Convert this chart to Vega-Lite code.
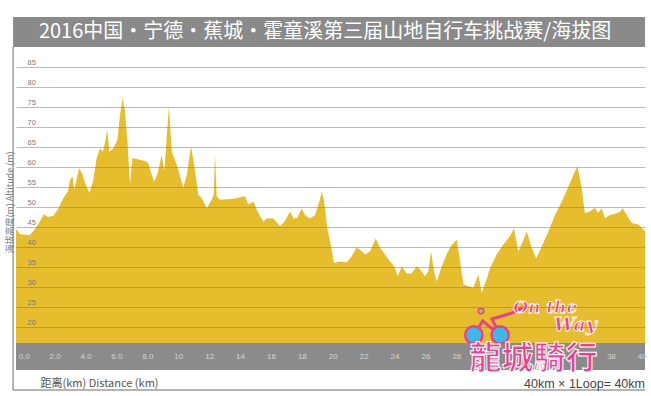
{
  "$schema": "https://vega.github.io/schema/vega-lite/v6.json",
  "width": 629,
  "height": 322,
  "autosize": "none",
  "padding": {"left": 16, "top": 48, "right": 6, "bottom": 26},
  "background": "white",
  "config": {"view": {"stroke": null}},
  "data": {"values": [{"k": 1}]},
  "resolve": {"axis": {"x": "independent", "y": "independent"}},
  "datasets": {
    "profile": [
      {"km": -0.5, "alt": 44.5}, {"km": -0.24, "alt": 43.2}, {"km": 0.41, "alt": 43.0}, {"km": 0.73, "alt": 44.5},
      {"km": 1.06, "alt": 46.5}, {"km": 1.31, "alt": 48.2}, {"km": 1.57, "alt": 47.5}, {"km": 1.92, "alt": 47.8},
      {"km": 2.22, "alt": 49.5}, {"km": 2.56, "alt": 52.2}, {"km": 2.87, "alt": 54.0}, {"km": 3.0, "alt": 56.8},
      {"km": 3.17, "alt": 57.6}, {"km": 3.26, "alt": 54.3}, {"km": 3.43, "alt": 57.0}, {"km": 3.58, "alt": 59.7},
      {"km": 3.77, "alt": 58.5}, {"km": 3.97, "alt": 56.0}, {"km": 4.25, "alt": 53.5}, {"km": 4.49, "alt": 56.5},
      {"km": 4.72, "alt": 62.2}, {"km": 4.94, "alt": 64.7}, {"km": 5.13, "alt": 63.8}, {"km": 5.26, "alt": 66.2},
      {"km": 5.41, "alt": 69.3}, {"km": 5.54, "alt": 63.8}, {"km": 5.8, "alt": 64.7}, {"km": 6.06, "alt": 66.7},
      {"km": 6.23, "alt": 73.0}, {"km": 6.4, "alt": 77.2}, {"km": 6.55, "alt": 74.0}, {"km": 6.72, "alt": 66.0},
      {"km": 6.88, "alt": 55.6}, {"km": 7.03, "alt": 62.2}, {"km": 7.31, "alt": 62.0}, {"km": 7.85, "alt": 61.5},
      {"km": 8.06, "alt": 61.0}, {"km": 8.24, "alt": 58.5}, {"km": 8.45, "alt": 56.4}, {"km": 8.67, "alt": 58.5},
      {"km": 8.93, "alt": 63.0}, {"km": 9.1, "alt": 59.0}, {"km": 9.4, "alt": 75.2}, {"km": 9.58, "alt": 63.9},
      {"km": 9.9, "alt": 60.6}, {"km": 10.33, "alt": 54.8}, {"km": 10.55, "alt": 58.0}, {"km": 10.83, "alt": 65.2},
      {"km": 11.09, "alt": 59.0}, {"km": 11.3, "alt": 53.1}, {"km": 11.56, "alt": 52.0}, {"km": 11.84, "alt": 49.7},
      {"km": 12.12, "alt": 51.5}, {"km": 12.3, "alt": 53.0}, {"km": 12.38, "alt": 63.5}, {"km": 12.49, "alt": 52.7},
      {"km": 12.71, "alt": 51.8}, {"km": 13.46, "alt": 52.0}, {"km": 13.87, "alt": 52.3}, {"km": 14.32, "alt": 52.7},
      {"km": 14.54, "alt": 50.6}, {"km": 14.86, "alt": 51.4}, {"km": 15.08, "alt": 49.3}, {"km": 15.29, "alt": 47.8},
      {"km": 15.51, "alt": 46.4}, {"km": 15.75, "alt": 47.2}, {"km": 16.16, "alt": 47.1}, {"km": 16.59, "alt": 45.2},
      {"km": 16.91, "alt": 46.5}, {"km": 17.24, "alt": 48.9}, {"km": 17.45, "alt": 47.2}, {"km": 17.69, "alt": 47.2},
      {"km": 17.99, "alt": 49.6}, {"km": 18.21, "alt": 48.0}, {"km": 18.53, "alt": 47.1}, {"km": 18.85, "alt": 48.0},
      {"km": 19.07, "alt": 50.5}, {"km": 19.29, "alt": 53.9}, {"km": 19.44, "alt": 51.5}, {"km": 19.65, "alt": 44.7},
      {"km": 19.87, "alt": 40.5}, {"km": 20.08, "alt": 36.0}, {"km": 20.47, "alt": 36.4}, {"km": 20.91, "alt": 36.2},
      {"km": 21.23, "alt": 37.7}, {"km": 21.55, "alt": 39.8}, {"km": 21.77, "alt": 39.3}, {"km": 22.09, "alt": 38.1},
      {"km": 22.41, "alt": 38.9}, {"km": 22.78, "alt": 42.1}, {"km": 23.06, "alt": 39.8}, {"km": 23.39, "alt": 38.1},
      {"km": 23.71, "alt": 36.4}, {"km": 23.99, "alt": 35.1}, {"km": 24.21, "alt": 32.7}, {"km": 24.47, "alt": 35.1},
      {"km": 24.79, "alt": 33.4}, {"km": 25.11, "alt": 33.4}, {"km": 25.44, "alt": 35.2}, {"km": 25.7, "alt": 34.2},
      {"km": 25.97, "alt": 32.7}, {"km": 26.19, "alt": 34.0}, {"km": 26.36, "alt": 38.9}, {"km": 26.56, "alt": 33.8},
      {"km": 26.73, "alt": 31.4}, {"km": 27.01, "alt": 34.6}, {"km": 27.38, "alt": 38.3}, {"km": 27.7, "alt": 40.5},
      {"km": 28.03, "alt": 41.8}, {"km": 28.24, "alt": 36.4}, {"km": 28.46, "alt": 30.6}, {"km": 28.78, "alt": 30.2},
      {"km": 29.1, "alt": 29.8}, {"km": 29.43, "alt": 33.1}, {"km": 29.64, "alt": 28.5}, {"km": 29.92, "alt": 31.5},
      {"km": 30.18, "alt": 34.7}, {"km": 30.61, "alt": 38.1}, {"km": 31.04, "alt": 40.6}, {"km": 31.47, "alt": 42.7},
      {"km": 31.73, "alt": 44.7}, {"km": 32.01, "alt": 38.9}, {"km": 32.3, "alt": 41.4}, {"km": 32.56, "alt": 43.9},
      {"km": 32.88, "alt": 39.8}, {"km": 33.17, "alt": 37.1}, {"km": 33.53, "alt": 40.2}, {"km": 33.96, "alt": 43.9},
      {"km": 34.4, "alt": 48.1}, {"km": 34.83, "alt": 51.4}, {"km": 35.26, "alt": 55.1}, {"km": 35.57, "alt": 58.0},
      {"km": 35.84, "alt": 60.2}, {"km": 36.11, "alt": 54.8}, {"km": 36.32, "alt": 48.5}, {"km": 36.65, "alt": 48.9},
      {"km": 36.97, "alt": 49.8}, {"km": 37.17, "alt": 48.5}, {"km": 37.41, "alt": 49.7}, {"km": 37.62, "alt": 47.2},
      {"km": 37.94, "alt": 48.0}, {"km": 38.27, "alt": 48.3}, {"km": 38.59, "alt": 48.8}, {"km": 38.77, "alt": 49.7},
      {"km": 39.03, "alt": 48.0}, {"km": 39.35, "alt": 46.0}, {"km": 39.78, "alt": 45.6}, {"km": 40.21, "alt": 44.0}
    ],
    "wheels": [
      {"km": 29.13, "alt": 18.0},
      {"km": 30.83, "alt": 18.0}
    ],
    "frame": [
      {"km": 29.13, "alt": 18.0, "o": 1},
      {"km": 29.7, "alt": 21.5, "o": 2},
      {"km": 30.83, "alt": 18.0, "o": 3},
      {"km": 30.3, "alt": 22.0, "o": 4},
      {"km": 31.6, "alt": 23.5, "o": 5},
      {"km": 32.4, "alt": 25.0, "o": 6}
    ]
  },
  "layer": [
    {
      "data": {"name": "profile"},
      "mark": {"type": "area", "color": "#E6BE2D", "interpolate": "linear"},
      "encoding": {
        "x": {
          "field": "km", "type": "quantitative",
          "scale": {"domain": [-0.5, 40.21], "nice": false, "zero": false},
          "axis": {
            "values": [0, 2, 4, 6, 8, 10, 12, 14, 16, 18, 20, 22, 24, 26, 28, 38, 40],
            "labelExpr": "datum.value < 10 ? format(datum.value, '.1f') : format(datum.value, 'd')",
            "domain": false, "ticks": false, "grid": false,
            "labelPadding": -14, "labelBaseline": "middle", "labelFontSize": 8,
            "labelColor": "#d4d4d4", "labelFont": "Liberation Sans",
            "title": "距离(km)  Distance (km)", "titleX": 24, "titleY": 13,
            "titleAlign": "left", "titleBaseline": "middle", "titleFontSize": 11,
            "titleFontWeight": "normal", "titleColor": "#555555", "titleFont": "Noto Sans CJK SC",
            "labelFlush": false, "labelOverlap": false, "zindex": 2
          }
        },
        "y": {
          "field": "alt", "type": "quantitative",
          "scale": {"domain": [9.25, 89.75], "nice": false, "zero": false},
          "axis": {
            "values": [20, 25, 30, 35, 40, 45, 50, 55, 60, 65, 70, 75, 80, 85],
            "domain": false, "ticks": false, "grid": true, "zindex": 1,
            "gridColor": "#8a7a40", "gridOpacity": 0.5, "gridWidth": 1,
            "labelAlign": "left", "labelBaseline": "bottom", "labelPadding": -11, "labelOffset": -1,
            "labelFontSize": 7.5, "labelColor": "#7a7a7a", "labelFont": "Liberation Sans", "labelOverlap": false,
            "title": "海拔高度(m)   Altitude (m)", "titleX": -7, "titleY": 154,
            "titleAngle": -90, "titleAlign": "center", "titleBaseline": "middle",
            "titleFontSize": 9, "titleFontWeight": "normal", "titleColor": "#7a7a7a", "titleFont": "Noto Sans CJK SC"
          }
        },
        "y2": {"datum": 16}
      }
    },
    {
      "mark": {"type": "rect", "color": "#8b8b8b"},
      "encoding": {
        "x": {"datum": -0.5, "type": "quantitative", "axis": null},
        "x2": {"datum": 40.21},
        "y": {"datum": 9.25, "type": "quantitative", "axis": null},
        "y2": {"datum": 16}
      }
    },
    {
      "mark": {"type": "rect", "color": "#8a8a8a"},
      "encoding": {
        "x": {"datum": -0.69, "type": "quantitative", "axis": null},
        "x2": {"datum": 40.21},
        "y": {"datum": 90, "type": "quantitative", "axis": null},
        "y2": {"datum": 97.5}
      }
    },
    {
      "mark": {"type": "text", "text": "2016中国・宁德・蕉城・霍童溪第三届山地自行车挑战赛/海拔图", "font": "Noto Sans CJK SC", "fontSize": 20, "color": "#ffffff", "align": "center", "baseline": "middle"},
      "encoding": {
        "x": {"datum": 19.5, "type": "quantitative", "axis": null},
        "y": {"datum": 93.75, "type": "quantitative", "axis": null}
      }
    },
    {
      "mark": {"type": "rule", "color": "#6a6a6a", "strokeWidth": 1},
      "encoding": {
        "x": {"datum": -0.69, "type": "quantitative", "axis": null},
        "y": {"datum": 90, "type": "quantitative", "axis": null},
        "y2": {"datum": 4.25}
      }
    },
    {
      "mark": {"type": "rule", "color": "#6a6a6a", "strokeWidth": 1},
      "encoding": {
        "x": {"datum": -0.69, "type": "quantitative", "axis": null},
        "x2": {"datum": 40.21},
        "y": {"datum": 4.25, "type": "quantitative", "axis": null}
      }
    },
    {
      "mark": {"type": "text", "text": "40km × 1Loop= 40km", "font": "Liberation Sans", "fontSize": 12.5, "color": "#444444", "align": "right", "baseline": "middle"},
      "encoding": {
        "x": {"datum": 40.21, "type": "quantitative", "axis": null},
        "y": {"datum": 5.8, "type": "quantitative", "axis": null}
      }
    },
    {
      "data": {"name": "frame"},
      "mark": {"type": "line", "color": "#E8418F", "strokeWidth": 3},
      "encoding": {
        "x": {"field": "km", "type": "quantitative", "axis": null},
        "y": {"field": "alt", "type": "quantitative", "axis": null},
        "order": {"field": "o"}
      }
    },
    {
      "data": {"name": "wheels"},
      "mark": {"type": "point", "shape": "circle", "filled": true, "fill": "#3DB8EA", "stroke": "#E8418F", "strokeWidth": 2.5, "size": 300, "opacity": 1},
      "encoding": {
        "x": {"field": "km", "type": "quantitative", "axis": null},
        "y": {"field": "alt", "type": "quantitative", "axis": null}
      }
    },
    {
      "mark": {"type": "point", "shape": "circle", "filled": true, "fill": "#7ED957", "stroke": "#E8418F", "strokeWidth": 1.5, "size": 30, "opacity": 1},
      "encoding": {
        "x": {"datum": 29.6, "type": "quantitative", "axis": null},
        "y": {"datum": 24.0, "type": "quantitative", "axis": null}
      }
    },
    {
      "mark": {"type": "text", "text": "On the", "font": "DejaVu Serif", "fontStyle": "italic", "fontWeight": "bold", "fontSize": 17, "fill": "#E8418F", "stroke": "#ffffff", "strokeWidth": 0.8, "align": "center", "baseline": "middle"},
      "encoding": {
        "x": {"datum": 33.75, "type": "quantitative", "axis": null},
        "y": {"datum": 24.8, "type": "quantitative", "axis": null}
      }
    },
    {
      "mark": {"type": "text", "text": "Way", "font": "DejaVu Serif", "fontStyle": "italic", "fontWeight": "bold", "fontSize": 19, "fill": "#E8418F", "stroke": "#ffffff", "strokeWidth": 0.8, "align": "center", "baseline": "middle"},
      "encoding": {
        "x": {"datum": 35.7, "type": "quantitative", "axis": null},
        "y": {"datum": 20.4, "type": "quantitative", "axis": null}
      }
    },
    {
      "mark": {"type": "text", "text": "龍城騎行", "font": "Noto Sans CJK TC", "fontWeight": "bold", "fontSize": 32, "fill": "#E8418F", "stroke": "#ffffff", "strokeWidth": 1, "align": "center", "baseline": "middle"},
      "encoding": {
        "x": {"datum": 33.0, "type": "quantitative", "axis": null},
        "y": {"datum": 11.9, "type": "quantitative", "axis": null}
      }
    }
  ]
}
